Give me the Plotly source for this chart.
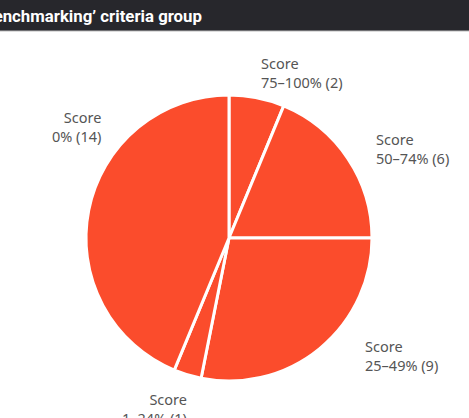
import plotly.graph_objects as go

W, H = 469, 418

# Data
categories = ["75–100%", "50–74%", "25–49%", "1–24%", "0%"]
counts = [2, 6, 9, 1, 14]
header_text = "‘Benchmarking’ criteria group"

labels = [f"Score<br>{c} ({n})" for c, n in zip(categories, counts)]

def px(x):
    return x / W

def py(y):
    return 1 - y / H

fig = go.Figure()
fig.add_trace(go.Pie(
    labels=categories,
    values=counts,
    sort=False,
    direction="clockwise",
    rotation=0,
    textinfo="none",
    hoverinfo="label+value",
    marker=dict(colors=["#fb4c2c"] * len(counts), line=dict(color="white", width=3)),
    domain=dict(x=[px(86), px(372)], y=[py(381), py(95)]),
    showlegend=False,
))

# label placement (layout only)
label_pos = [
    (259, 72, "left"),
    (374, 149, "left"),
    (363, 355, "left"),
    (189, 408, "right"),
    (103, 127, "right"),
]
for txt, (x, y, anc) in zip(labels, label_pos):
    fig.add_annotation(
        x=px(x), y=py(y), xref="paper", yref="paper",
        text=txt, showarrow=False, xanchor=anc, yanchor="middle", align=anc,
        font=dict(family="Noto Sans", size=14.5, color="#555555"),
    )

# header bar
fig.add_shape(type="rect", xref="paper", yref="paper",
              x0=0, x1=1, y0=py(31), y1=1.01,
              fillcolor="#27272c", line=dict(width=0), layer="above")
fig.add_shape(type="line", xref="paper", yref="paper",
              x0=0, x1=1, y0=py(31), y1=py(31),
              line=dict(color="#bbbbbb", width=1), layer="above")
fig.add_annotation(
    x=px(204), y=py(16), xref="paper", yref="paper",
    text=f"<b>{header_text}</b>", showarrow=False, xanchor="right", yanchor="middle",
    font=dict(family="Roboto", size=16.8, color="white"),
)

fig.update_layout(
    width=W, height=H,
    margin=dict(l=0, r=0, t=0, b=0),
    paper_bgcolor="white",
    plot_bgcolor="white",
)

fig.write_html("out.html")
